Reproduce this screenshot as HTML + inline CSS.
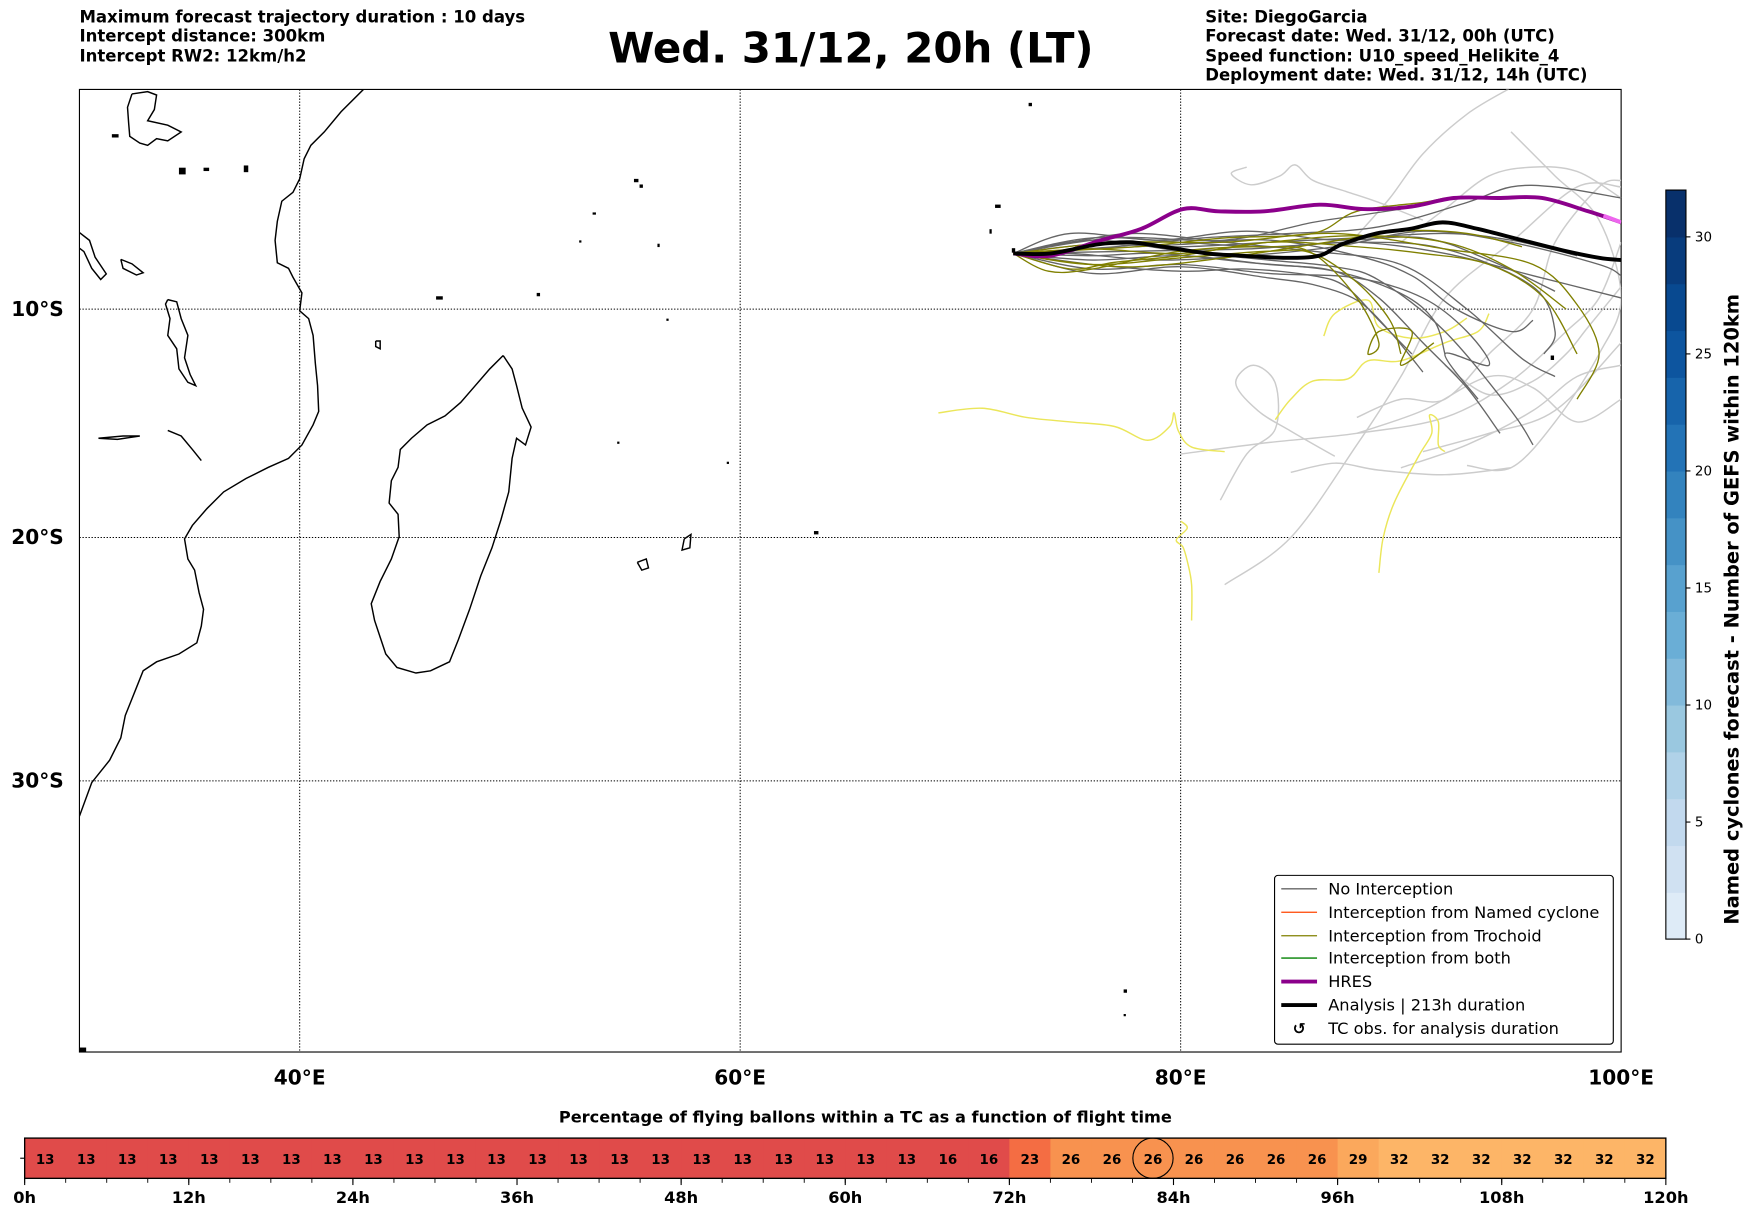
<!DOCTYPE html>
<html><head><meta charset="utf-8"><style>
html,body{margin:0;padding:0;background:#fff}
svg{display:block;font-family:"DejaVu Sans","Liberation Sans",sans-serif}
</style></head><body>
<svg id="fig" width="1752" height="1213" viewBox="0 0 1567 1085" xmlns="http://www.w3.org/2000/svg">
<g font-size="14.8" font-weight="bold">
<text x="71" y="20">Maximum forecast trajectory duration : 10 days</text>
<text x="71" y="37">Intercept distance: 300km</text>
<text x="71" y="55">Intercept RW2: 12km/h2</text>
</g>
<text x="761" y="56" font-size="37.5" font-weight="bold" text-anchor="middle">Wed. 31/12, 20h (LT)</text>
<g font-size="14.8" font-weight="bold">
<text x="1078" y="20">Site: DiegoGarcia</text>
<text x="1078" y="37">Forecast date: Wed. 31/12, 00h (UTC)</text>
<text x="1078" y="55">Speed function: U10_speed_Helikite_4</text>
<text x="1078" y="72">Deployment date: Wed. 31/12, 14h (UTC)</text>
</g>
<defs><clipPath id="mapclip"><rect x="71" y="80" width="1379" height="861"/></clipPath></defs>
<g id="map"></g>
<g clip-path="url(#mapclip)" fill="none" stroke="#000" stroke-width="1.3">
<polyline points="325,80 305,100 290,118 278,130 272,142 268,160 262,172 252,180 248,198 246,215 248,235 258,240 262,248 270,262 268,278 276,285 280,300 282,325 284,345 285,368 280,380 270,398 258,410 240,418 220,428 200,440 185,455 172,470 165,482 168,500 174,510 178,530 182,545 180,560 176,575 160,585 140,592 128,600 122,615 118,625 112,640 108,660 98,680 82,700 71,730"/>
<polyline points="450,318 458,330 462,345 467,365 475,382 470,398 462,392 458,410 455,440 448,465 440,490 430,515 420,545 410,572 402,592 385,600 372,602 355,597 345,585 340,570 335,555 332,540 340,520 350,500 357,480 356,460 348,450 350,430 356,418 358,402 368,392 382,380 398,372 412,360 425,345 438,330 450,318"/>
<polyline points="150,268 158,270 162,285 168,300 165,320 170,335 175,345 168,342 160,330 158,312 150,300 152,285 148,272 150,268"/>
<polyline points="71,208 80,215 85,230 95,245 90,250 82,240 75,225 71,222"/>
<polyline points="118,84 132,82 140,85 138,98 132,108 150,112 162,118 150,126 140,124 132,130 125,128 116,122 115,110 114,96 118,84"/>
<polyline points="108,232 118,236 128,244 122,246 110,240 108,232"/>
<polyline points="88,392 110,390 125,390 105,393 88,392"/>
<polyline points="150,385 162,390 172,402 180,412"/>
<polyline points="570,503 578,500 580,508 574,510 570,503"/>
<polyline points="612,482 618,478 617,490 610,492 612,482"/>
<polyline points="336,305 340,305 340,312 336,310 336,305"/>
</g>
<g fill="#000">
<rect x="567" y="160" width="4" height="3"/><rect x="572" y="165" width="3" height="3"/><rect x="530" y="190" width="3" height="2"/><rect x="518" y="215" width="2" height="2"/><rect x="588" y="218" width="2" height="3"/><rect x="480" y="262" width="3" height="3"/><rect x="390" y="265" width="6" height="3"/><rect x="596" y="285" width="2" height="2"/><rect x="552" y="395" width="2" height="2"/><rect x="650" y="413" width="2" height="2"/><rect x="728" y="475" width="4" height="3"/><rect x="890" y="183" width="5" height="3"/><rect x="885" y="205" width="2" height="4"/><rect x="920" y="92" width="3" height="3"/><rect x="905" y="222" width="3" height="4"/><rect x="1005" y="885" width="3" height="3"/><rect x="1005" y="907" width="2" height="2"/><rect x="1387" y="318" width="3" height="4"/><rect x="71" y="937" width="6" height="4"/><rect x="100" y="120" width="6" height="3"/><rect x="160" y="150" width="6" height="6"/><rect x="218" y="148" width="4" height="6"/><rect x="182" y="150" width="5" height="3"/>
</g>
<g id="traj" clip-path="url(#mapclip)"></g>
<g font-size="14.5">
<rect x="1140" y="783" width="303" height="151" rx="3" fill="#fff" stroke="#000" stroke-width="1"/>
<line x1="1146" y1="795" x2="1178" y2="795" stroke="#666" stroke-width="1.2"/><text x="1188" y="800">No Interception</text>
<line x1="1146" y1="816" x2="1178" y2="816" stroke="#ff4500" stroke-width="1.2"/><text x="1188" y="821">Interception from Named cyclone</text>
<line x1="1146" y1="837" x2="1178" y2="837" stroke="#808000" stroke-width="1.2"/><text x="1188" y="842">Interception from Trochoid</text>
<line x1="1146" y1="857" x2="1178" y2="857" stroke="#008000" stroke-width="1.2"/><text x="1188" y="862">Interception from both</text>
<line x1="1146" y1="878" x2="1178" y2="878" stroke="#8b008b" stroke-width="3.5"/><text x="1188" y="883">HRES</text>
<line x1="1146" y1="899" x2="1178" y2="899" stroke="#000" stroke-width="3.5"/><text x="1188" y="904">Analysis | 213h duration</text>
<text x="1162" y="925" text-anchor="middle" font-weight="bold" font-size="14">↺</text><text x="1188" y="925">TC obs. for analysis duration</text>
</g>
<g id="cbar"></g>
<text transform="translate(1555,545) rotate(-90)" text-anchor="middle" font-size="17.4" font-weight="bold">Named cyclones forecast - Number of GEFS within 120km</text>
<text x="774" y="1004" text-anchor="middle" font-size="14.5" font-weight="bold">Percentage of flying ballons within a TC as a function of flight time</text>
<g id="tcbar"></g>
</svg>
<script>
// ---- data ----
const lonTicks = [40, 60, 80, 100];
const latTicks = [10, 20, 30];
const hresLon = [72.4,74.1,76.4,78.2,80.1,81.7,83.8,86.3,88.3,90.4,92.4,94.4,96.4,98.5,100];
const hresLat = [7.5,7.6,6.9,6.4,5.5,5.6,5.6,5.3,5.5,5.4,5.0,5.0,5.0,5.6,6.1];
const anaLon = [72.4,74.1,76.2,77.7,79.2,81.2,82.7,84.8,86.3,87.3,88.9,90.4,91.9,93.5,95.5,97.5,99.0,100];
const anaLat = [7.5,7.5,7.1,7.0,7.2,7.5,7.6,7.7,7.6,7.1,6.6,6.4,6.1,6.4,6.9,7.4,7.7,7.8];
const lightTracks = [
 [[88,6.7],[89.5,5],[91,3],[93,1.2],[95,0]],
 [[83,3.6],[82.3,3.9],[83.2,4.4],[84.5,4.0],[85.2,3.5],[86,4.2],[87.5,4.7],[89,5.2],[91,6]],
 [[87,16.5],[85,15.4],[83.5,14.5],[82.5,13.3],[83.3,12.5],[84.3,13.3],[84.3,15.3],[83,16.4],[81.8,18.4]],
 [[80,16.4],[84,15.9],[88,15.5],[92,14.8],[95,13.2],[97.5,11],[99,9.5],[100,7]],
 [[90,17.0],[93,16.0],[96,14.5],[98,13],[100,12.5]],
 [[88,15.5],[91,14.5],[94,13],[96,13.5],[98,15],[100,14]],
 [[82,22.0],[85,20],[88,16],[90,13],[92,9.5],[95,7],[98,4.5],[100,4.5]],
 [[95,2],[97,4],[99,6],[100,9.5],[99,12],[97,15],[95,17],[93,16.9]],
 [[91,16.3],[94,15.5],[97,14.5],[100,11.5]],
 [[88,14.8],[90,14.0],[92,14],[94,12],[96,10],[97,7],[99,4.5],[100,4.2]],
 [[92,12.5],[94,13.8],[96,13.2],[97.5,12.0],[98.5,10.8],[100,9]],
 [[90,7],[92,5.5],[94,4.0],[96,3.6],[98,3.8],[100,5]],
 [[85,17.2],[87,16.8],[89,17.1],[92,17.3],[95,17.0]]
];
const yellowTracks = [
 [[69,14.6],[71,14.4],[73,14.8],[75,15.0],[77,15.2],[78.5,15.8],[79.5,15.2],[79.7,14.6],[79.9,15.4],[80.5,16.1],[82,16.3]],
 [[84.3,14.9],[85,14],[86,13.2],[87.6,13.1],[88.5,12.3],[90,12.3],[92,11.5],[93.5,11],[94,10.2]],
 [[86.5,11.2],[87,10.2],[88.5,9.6],[89,10.8],[90.5,11.3],[92,11],[93,10.4]],
 [[80,19.3],[80.3,19.6],[79.8,20.1],[80.1,20.4],[80.3,21],[80.5,22],[80.5,23.5]],
 [[89,21.5],[89.2,20],[89.7,18.5],[90.8,16.5],[91.4,15.5],[91.3,14.7],[91.7,15],[91.7,16],[92,16.3]]
];
const grayTracks = [
 [[72.4,7.5],[76,6.8],[80,7.0],[84,7.2],[88,7.0],[92,7.5],[96,8.5],[100,9.5]],
 [[72.4,7.5],[76,7.8],[80,7.6],[84,8.0],[87,8.3],[89,9.5],[91,11.5],[93,13.5],[94.5,15.5]],
 [[72.4,7.5],[75,7.0],[78,6.6],[82,7.0],[86,7.4],[90,8.0],[93,10],[95.5,12.2],[97,13]],
 [[72.4,7.5],[76,8.2],[80,8.0],[84,8.4],[88,8.6],[91,9.5],[93,11],[94,12.5],[92,12],[93.5,14]],
 [[72.4,7.5],[77,7.2],[81,6.8],[85,6.6],[89,6.3],[93,5.2],[95,4.5],[97,4.5],[100,5]],
 [[72.4,7.5],[76,6.9],[80,7.4],[84,7.8],[87,8.1],[89,8.7],[92,11],[95,14.5],[96,16]],
 [[72.4,7.5],[75,7.5],[79,7.8],[83,7.6],[87,7.2],[91,6.5],[95,7.0],[99,8.0],[100,8.5]],
 [[72.4,7.5],[76,7.3],[80,7.1],[84,6.9],[88,7.6],[90.5,8.5],[92.5,10],[95,11],[96,10.5]],
 [[72.4,7.5],[76,8.0],[80,8.3],[83,8.2],[86,8.5],[87.5,9.0],[89,10.5],[90.5,12]],
 [[72.4,7.5],[77,6.8],[82,6.9],[86,6.1],[88,5.8],[90,5.5]],
 [[72.4,7.5],[78,7.4],[83,7.3],[88,7.0],[92,7.3],[96,9],[97,11],[96.5,12]],
 [[72.4,7.5],[76,7.6],[79,7.5],[83,7.9],[87,8.3],[90,9.3],[91.5,10.5],[92,12]],
 [[72.4,7.5],[75,6.6],[79,6.9],[83,6.5],[87,6.9],[91,6.8],[94,7.8],[97,9.2]],
 [[72.4,7.5],[76,8.4],[80,8.1],[84,8.6],[86,8.9],[88,9.6],[89.5,11],[91,12.8]],
 [[72.4,7.5],[76,7.1],[80,7.2],[84,7.0],[88,6.8],[92,6.6],[95,6.9],[98,7.6]]
];
const oliveTracks = [
 [[72.4,7.5],[75,8.2],[77,7.9],[80,7.6],[84,7.0],[88,7.2],[91,7.5],[94,8],[96.5,9.5],[98,12]],
 [[72.4,7.5],[74,8.3],[76,8.2],[80,7.4],[84,7.2],[86,7.5],[88,9.5],[89,11.5],[88.5,12],[89,11],[90.5,11],[90,12.5],[91.5,11.5]],
 [[72.4,7.5],[76,7.3],[80,7.5],[84,7.0],[88,6.7],[92,7.0],[95,8.2],[97.5,10]],
 [[72.4,7.5],[78,7.2],[82,6.8],[86,6.6],[88,5.6],[91,5.2],[92,5.0]],
 [[72.4,7.5],[76,8.0],[80,7.7],[84,7.4],[86,7.5],[88,8.8],[89.5,10.5],[90,12]],
 [[72.4,7.5],[77,7.0],[82,7.0],[87,6.6],[92,7.3],[96,8],[98,9.8],[99,12],[98,14]],
 [[72.4,7.5],[75,7.9],[78,8.1],[82,7.7],[86,7.1],[90,6.5],[93,6.6],[95.5,7.2]]
];
const cbarTicks = [0,5,10,15,20,25,30];
const cbarMax = 32;
const hourTicks = [0,12,24,36,48,60,72,84,96,108,120];
const tcPercent = [13,13,13,13,13,13,13,13,13,13,13,13,13,13,13,13,13,13,13,13,13,13,16,16,23,26,26,26,26,26,26,26,29,32,32,32,32,32,32,32];
const circledCell = 27;

// ---- axes ----
const NS='http://www.w3.org/2000/svg';
const X0=71,X1=1450,Y0=80,Y1=941;
function xLon(lon){return X0+(lon-30)*(X1-X0)/70;}
function merc(lat){const r=lat*Math.PI/180;return Math.log(Math.tan(Math.PI/4+r/2));}
const K=(X1-X0)/70*180/Math.PI;
function yLat(s){return Y0-1.5+K*merc(s);}
function mk(tag,attrs,parent){const e=document.createElementNS(NS,tag);for(const k in attrs)e.setAttribute(k,attrs[k]);parent.appendChild(e);return e;}

const map=document.getElementById('map');
const frame=mk('rect',{x:X0,y:Y0,width:X1-X0,height:Y1-Y0,fill:'none',stroke:'#000','stroke-width':1},map);


lonTicks.forEach(l=>{const x=xLon(l);
 if(l<100){const g=mk('line',{x1:x,y1:Y0,x2:x,y2:Y1,stroke:'#000','stroke-width':0.9,'stroke-dasharray':'1.2,1.5'},map);
 
 }
 const t=mk('text',{x:x,y:970,'text-anchor':'middle','font-size':18,'font-weight':'bold'},map);t.textContent=l+'°E';
 
 
});
latTicks.forEach(l=>{const y=yLat(l);
 const g=mk('line',{x1:X0,y1:y,x2:X1,y2:y,stroke:'#000','stroke-width':0.9,'stroke-dasharray':'1.2,1.5'},map);
 
 
 const t=mk('text',{x:57,y:y+6,'text-anchor':'end','font-size':18,'font-weight':'bold'},map);t.textContent=l+'°S';
 
 
});

// ---- trajectories (smoothed with Catmull-Rom) ----
const traj=document.getElementById('traj');
function smoothPath(arr){
 const p=arr.map(q=>[xLon(q[0]),yLat(q[1])]);
 let d='M'+p[0][0].toFixed(1)+','+p[0][1].toFixed(1);
 for(let i=0;i<p.length-1;i++){
  const p0=p[i-1]||p[i],p1=p[i],p2=p[i+1],p3=p[i+2]||p2;
  const c1=[p1[0]+(p2[0]-p0[0])/6,p1[1]+(p2[1]-p0[1])/6];
  const c2=[p2[0]-(p3[0]-p1[0])/6,p2[1]-(p3[1]-p1[1])/6];
  d+=' C'+c1[0].toFixed(1)+','+c1[1].toFixed(1)+' '+c2[0].toFixed(1)+','+c2[1].toFixed(1)+' '+p2[0].toFixed(1)+','+p2[1].toFixed(1);
 }
 return d;
}
function drawTracks(list,color,w,name){list.forEach(tr=>{const p=mk('path',{d:smoothPath(tr),fill:'none',stroke:color,'stroke-width':w,'stroke-linejoin':'round'},traj);
 
 });}
drawTracks(lightTracks,'#cccccc',1.3,'light-track');
drawTracks(yellowTracks,'#ebe65a',1.3,'yellow-track');
drawTracks(grayTracks,'#666666',1.2,'no-interception-track');
drawTracks(oliveTracks,'#808000',1.2,'trochoid-track');
const hres=mk('path',{d:smoothPath(hresLon.map((v,i)=>[v,hresLat[i]])),fill:'none',stroke:'#8b008b','stroke-width':3.5,'stroke-linejoin':'round'},traj);


const hresTip=mk('path',{d:smoothPath([[hresLon[13]+0.7,hresLat[13]+0.2],[hresLon[14],hresLat[14]]]),fill:'none',stroke:'#ee66ee','stroke-width':3.5},traj);


const ana=mk('path',{d:smoothPath(anaLon.map((v,i)=>[v,anaLat[i]])),fill:'none',stroke:'#000','stroke-width':3.5,'stroke-linejoin':'round'},traj);



// ---- colorbar ----
const cb=document.getElementById('cbar');
const CX=1490,CW=18,CY0=170,CY1=840;
const blues=['#deebf7','#d0e1f2','#c2d9ee','#b0d2e8','#9ac8e0','#82badb','#6aaed6','#58a1cf','#4592c6','#3383be','#2373b6','#1764ab','#0d559f','#084990','#083c7d','#08306b'];
function yC(v){return CY1-(v/cbarMax)*(CY1-CY0);}
blues.forEach((c,i)=>{const v0=i*2,v1=i*2+2;const r=mk('rect',{x:CX,y:yC(v1),width:CW,height:yC(v0)-yC(v1)+0.5,fill:c},cb);
 
 });
const cbf=mk('rect',{x:CX,y:CY0,width:CW,height:CY1-CY0,fill:'none',stroke:'#000','stroke-width':1},cb);


cbarTicks.forEach(v=>{const y=yC(v);mk('line',{x1:CX+CW,y1:y,x2:CX+CW+4,y2:y,stroke:'#000'},cb);
 const t=mk('text',{x:CX+CW+8,y:y+4,'font-size':12},cb);t.textContent=v;
 
 });

// ---- TC percentage bar ----
const tb=document.getElementById('tcbar');
const BX0=22,BX1=1490,BY0=1018,BY1=1054;
function xH(h){return BX0+h/120*(BX1-BX0);}
function pctColor(v){if(v<=16)return '#e04b4a';if(v<=23)return '#f46d43';if(v<=26)return '#f8924f';if(v<=29)return '#fba85c';return '#fdb567';}
tcPercent.forEach((v,i)=>{const x0=xH(i*3),x1=xH(i*3+3);
 const r=mk('rect',{x:x0,y:BY0,width:x1-x0+0.4,height:BY1-BY0,fill:pctColor(v)},tb);
 
 
 const t=mk('text',{x:(x0+x1)/2,y:BY0+23,'text-anchor':'middle','font-size':12,'font-weight':'bold'},tb);t.textContent=v;
 
 
 mk('line',{x1:x0,y1:BY1,x2:x0,y2:BY1+4,stroke:'#000','stroke-width':0.8},tb);
});
const circ=mk('circle',{cx:(xH(circledCell*3)+xH(circledCell*3+3))/2,cy:(BY0+BY1)/2,r:18,fill:'none',stroke:'#000','stroke-width':1},tb);


const bf=mk('rect',{x:BX0,y:BY0,width:BX1-BX0,height:BY1-BY0,fill:'none',stroke:'#000','stroke-width':1.2},tb);


mk('line',{x1:BX0-4,y1:(BY0+BY1)/2,x2:BX0,y2:(BY0+BY1)/2,stroke:'#000'},tb);
hourTicks.forEach(h=>{const x=xH(h);mk('line',{x1:x,y1:BY1,x2:x,y2:BY1+6,stroke:'#000','stroke-width':1},tb);
 const t=mk('text',{x:x,y:1076,'text-anchor':'middle','font-size':14.5,'font-weight':'bold'},tb);t.textContent=h+'h';
 
 });
</script>
</body></html>
